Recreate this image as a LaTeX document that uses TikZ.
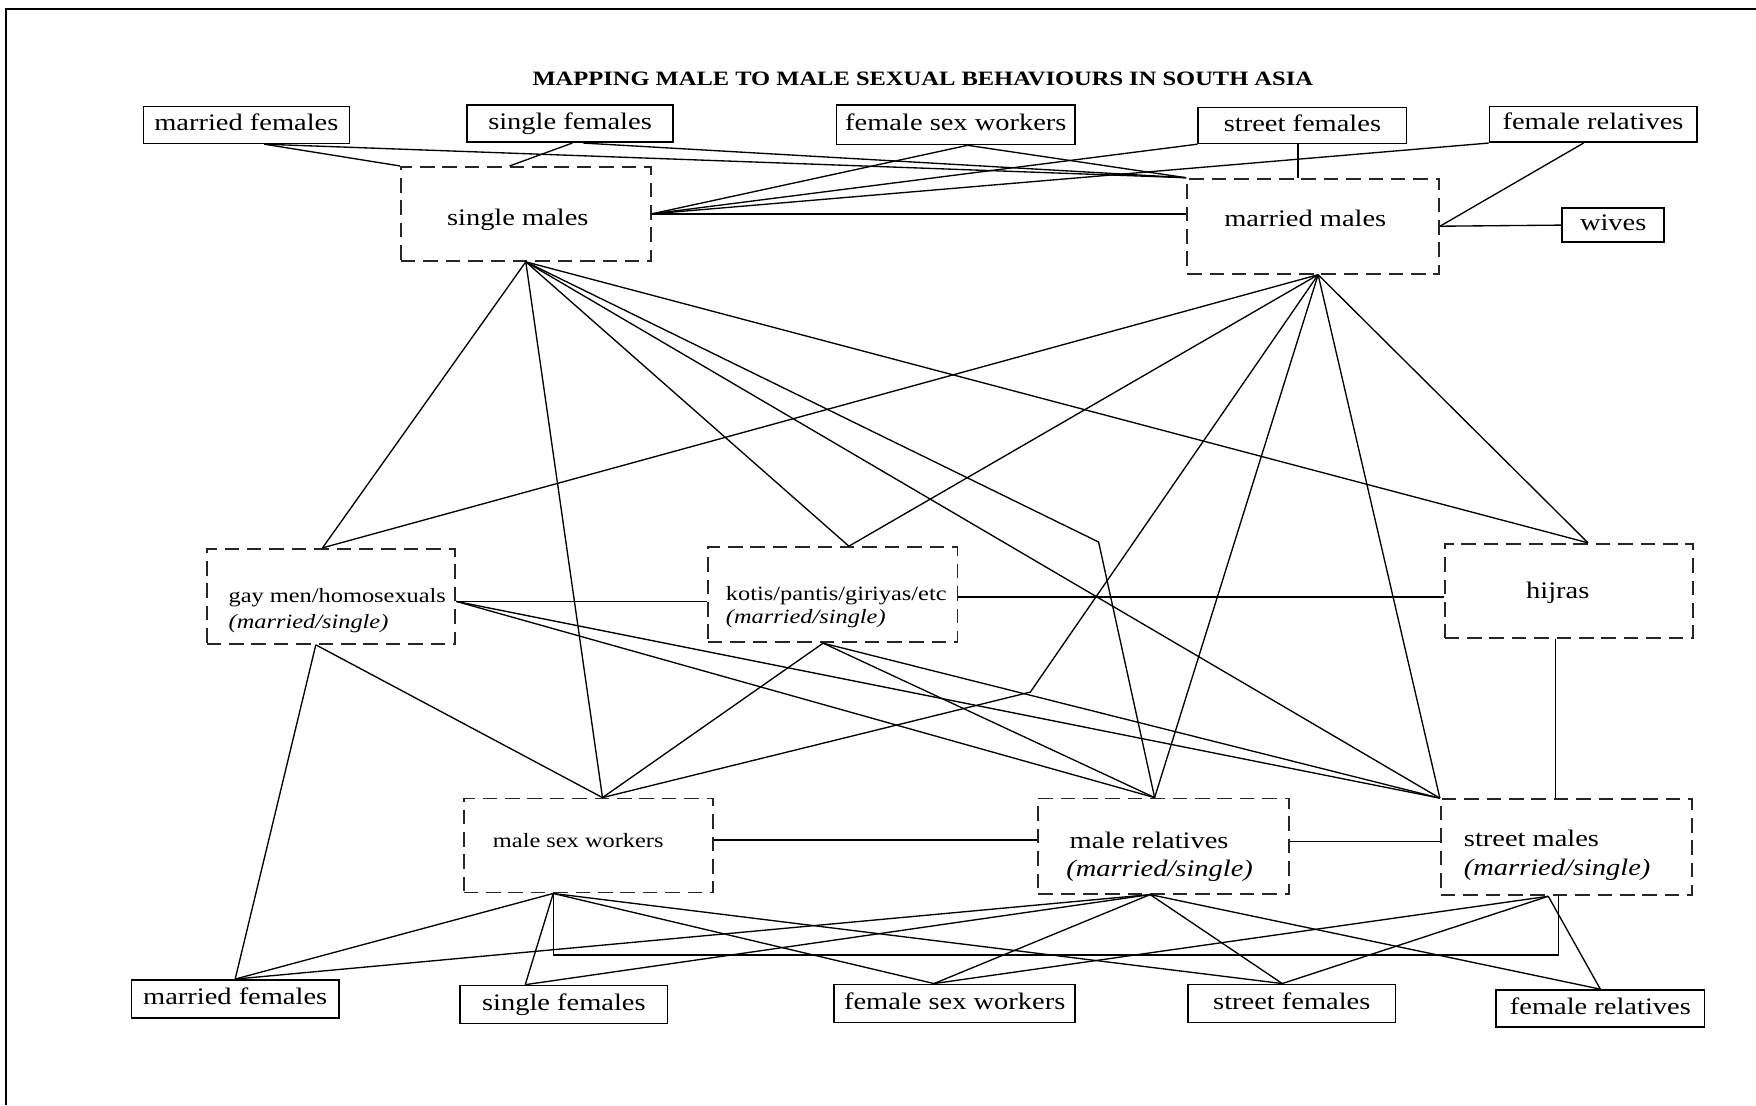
\documentclass[tikz,border=0pt]{standalone}
\usepackage{fontspec}
\setmainfont{Liberation Serif}[FakeStretch=1.2]
\usetikzlibrary{calc}
\newcommand\myBig{\fontsize{21.25}{25}\selectfont}
\newcommand\mySmall{\fontsize{18.2}{22}\selectfont}
\newcommand\myTitle{\fontsize{18.3}{22}\selectfont\bfseries}
\begin{document}
\begin{tikzpicture}[x=1bp,y=-1bp,
  conn/.style={line width=1.2pt},
  sbox/.style={draw, line width=1.5pt, inner sep=0pt, font=\myBig, text height=14.5bp, text depth=4.5bp},
  dbox/.style={draw=black!85, line width=1.6pt, dash pattern=on 13bp off 7bp, inner sep=0pt},
  lbl/.style={anchor=base west, inner sep=0pt, font=\myBig},
  slbl/.style={anchor=base west, inner sep=0pt, font=\mySmall}]
\useasboundingbox (0,0) rectangle (1568,987);
\draw[line width=1.8pt] (5,987) -- (5,8) -- (1568,8);

\node (title) [anchor=base, inner sep=0pt, font=\myTitle] at (824,76) {MAPPING MALE TO MALE SEXUAL BEHAVIOURS IN SOUTH ASIA};

% top row
\node (mfT) [sbox, minimum width=184bp, minimum height=33bp] at (220,111.5) {married females};
\node (sfT) [sbox, minimum width=184bp, minimum height=33bp] at (509,110.5) {single females};
\node (fswT) [sbox, minimum width=213bp, minimum height=35bp] at (853.5,111.5) {female sex workers};
\node (stfT) [sbox, minimum width=186bp, minimum height=32bp] at (1163,112) {street females};
\node (frT) [sbox, minimum width=185bp, minimum height=32bp] at (1422.5,111) {female relatives};
\node (wives) [sbox, minimum width=91bp, minimum height=30bp] at (1440.5,201) {wives};

% dashed boxes
\node (sm) [dbox, minimum width=223bp, minimum height=84bp] at (469.5,191) {};
\node (mm) [dbox, minimum width=225bp, minimum height=85bp] at (1172.5,202) {};
\node (gay) [dbox, minimum width=222bp, minimum height=85bp] at (295.5,532.5) {};
\node (kot) [dbox, minimum width=223bp, minimum height=85bp] at (743.5,531) {};
\node (hij) [dbox, minimum width=222bp, minimum height=84bp] at (1401,527.5) {};
\node (msw) [dbox, minimum width=223bp, minimum height=84bp] at (525.5,755) {};
\node (mr) [dbox, minimum width=224bp, minimum height=85bp] at (1039,755.5) {};
\node (stm) [dbox, minimum width=224bp, minimum height=86bp] at (1398.5,756.5) {};

\node (smT) [lbl] at (399,201) {single males};
\node (mmT) [lbl] at (1093,202) {married males};
\node (gayT1) [slbl] at (204,538) {gay men/homosexuals};
\node (gayT2) [slbl] at (204,561) {\itshape (married/single)};
\node (kotT1) [slbl] at (648,536) {kotis/pantis/giriyas/etc};
\node (kotT2) [slbl] at (648,557) {\itshape (married/single)};
\node (hijT) [lbl, anchor=base] at (1391,534) {hijras};
\node (mswT) [slbl] at (440,757) {male sex workers};
\node (mrT1) [lbl] at (955,758) {male relatives};
\node (mrT2) [lbl] at (952,783) {\itshape (married/single)};
\node (stmT1) [lbl] at (1307,756) {street males};
\node (stmT2) [lbl] at (1307,782) {\itshape (married/single)};

% bottom row
\node (mfB) [sbox, minimum width=185bp, minimum height=34bp] at (210,892) {married females};
\node (sfB) [sbox, minimum width=185bp, minimum height=34bp] at (503.5,897) {single females};
\node (fswB) [sbox, minimum width=215bp, minimum height=34bp] at (852.5,896) {female sex workers};
\node (stfB) [sbox, minimum width=185bp, minimum height=34bp] at (1153.5,896) {street females};
\node (frB) [sbox, minimum width=186bp, minimum height=33bp] at (1429,900.5) {female relatives};

% attachment points
\coordinate (mfTS) at ($(mfT.south)+(16,0)$);
\coordinate (sfTS1) at ($(sfT.south)+(2,0)$);
\coordinate (sfTS2) at ($(sfT.south)+(12,0)$);
\coordinate (fswTS) at ($(fswT.south)+(10.5,0)$);
\coordinate (stfTS) at ($(stfT.south)+(-4,0)$);
\coordinate (frTS) at ($(frT.south)+(-8.5,0)$);
\coordinate (smN) at ($(sm.north)+(-14.5,0)$);
\coordinate (smS) at (sm.south);
\coordinate (mmS) at ($(mm.south)+(4.5,0)$);
\coordinate (gayN) at ($(gay.north)+(-7.5,0)$);
\coordinate (kotN) at ($(kot.north)+(14.5,0)$);
\coordinate (hijN) at ($(hij.north)+(17,0)$);
\coordinate (mswN) at ($(msw.north)+(12.5,0)$);
\coordinate (mrN) at ($(mr.north)+(-8,0)$);
\coordinate (gayE) at ($(gay.east)+(0,4.5)$);
\coordinate (gayS) at ($(gay.south)+(-13.5,0)$);
\coordinate (kotS) at ($(kot.south)+(-8.5,0)$);
\coordinate (kotE) at ($(kot.east)+(0,2)$);
\coordinate (hijS) at ($(hij.south)+(-12,0)$);
\coordinate (mswE) at ($(msw.east)+(0,-5)$);
\coordinate (mswS) at ($(msw.south)+(-31.5,0)$);
\coordinate (mrE) at ($(mr.east)+(0,-4)$);
\coordinate (mrS) at ($(mr.south)+(-12,0)$);
\coordinate (stmS) at ($(stm.south)+(-16,0)$);
\coordinate (stmS2) at ($(stm.south)+(-7,0)$);
\coordinate (bendA) at (981,484);
\coordinate (bendB) at (920,618);
\coordinate (sfBN) at ($(sfB.north)+(-34.5,0)$);
\coordinate (fswBN) at ($(fswB.north)+(-18.5,0)$);
\coordinate (stfBN) at ($(stfB.north)+(-8.5,0)$);

% top connectors
\draw[conn] (mfTS) -- (sm.north west);
\draw[conn] (mfTS) -- (mm.north west);
\draw[conn] (sfTS1) -- (smN);
\draw[conn] (sfTS2) -- (mm.north west);
\draw[conn] (fswTS) -- (sm.east);
\draw[conn] (fswTS) -- (mm.north west);
\draw[conn] (stfT.south west) -- (sm.east);
\draw[conn] (stfTS) -- (stfTS |- mm.north);
\draw[conn] (frT.south west) -- (sm.east);
\draw[conn] (frTS) -- (mm.east);
\draw[conn] (mm.east) -- (wives.west);
\draw[conn] (sm.east) -- (sm.east -| mm.west);

% middle connectors
\foreach \t in {gayN, mswN, kotN, stm.north west, hijN} \draw[conn] (smS) -- (\t);
\draw[conn] (smS) -- (bendA) -- (mrN);
\foreach \t in {gayN, kotN, mrN, stm.north west, hijN} \draw[conn] (mmS) -- (\t);
\draw[conn] (mmS) -- (bendB) -- (mswN);
\draw[conn] (gayE) -- (gayE -| kot.west);
\draw[conn] (kotE) -- (kotE -| hij.west);
\draw[conn] (gayE) -- (mrN);
\draw[conn] (gayE) -- (stm.north west);
\draw[conn] (gayS) -- (mfB.north);
\draw[conn] (gayS) -- (mswN);
\draw[conn] (kotS) -- (mswN);
\draw[conn] (kotS) -- (mrN);
\draw[conn] (kotS) -- (stm.north west);
\draw[conn] (hijS) -- (hijS |- stm.north);
\draw[conn] (mswE) -- (mswE -| mr.west);
\draw[conn] (mrE) -- (mrE -| stm.west);

% bottom connectors
\foreach \t in {mfB.north, sfBN, fswBN, stfBN} \draw[conn] (mswS) -- (\t);
\draw[conn] (mswS) -- ++(0,55) -| (stmS2);
\foreach \t in {mfB.north, sfBN, fswBN, stfBN, frB.north} \draw[conn] (mrS) -- (\t);
\foreach \t in {fswBN, stfBN, frB.north} \draw[conn] (stmS) -- (\t);
\end{tikzpicture}
\end{document}
